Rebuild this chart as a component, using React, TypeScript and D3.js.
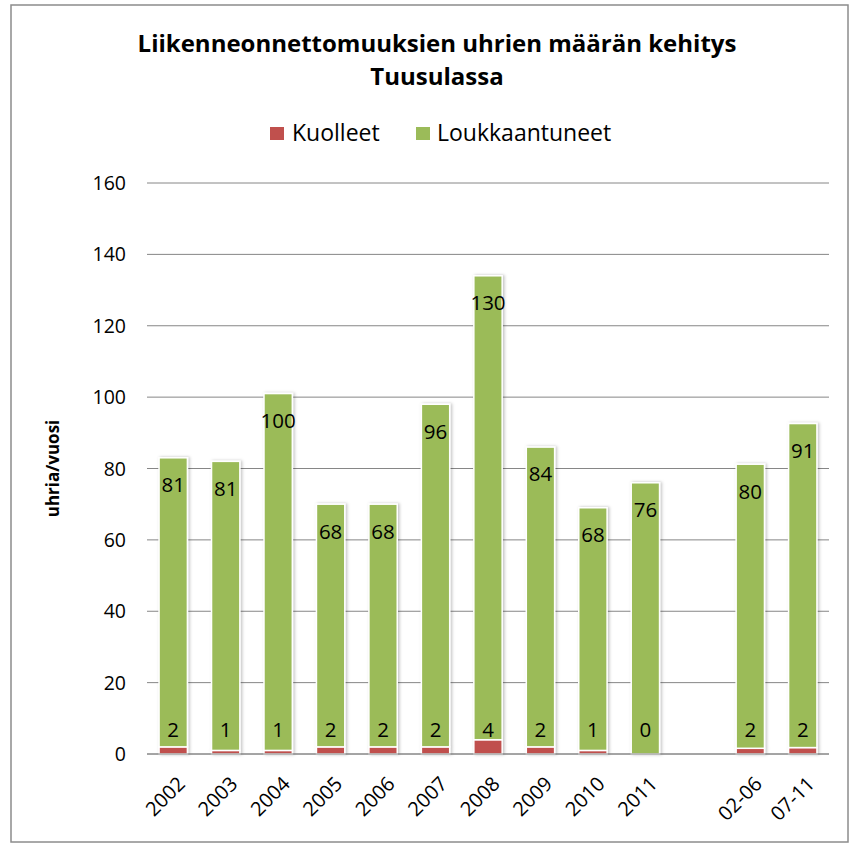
import React from "react";
import * as d3 from "d3";

const categories = ["2002", "2003", "2004", "2005", "2006", "2007", "2008", "2009", "2010", "2011", "", "02-06", "07-11"];
const kuolleet = [2, 1, 1, 2, 2, 2, 4, 2, 1, 0, null, 1.6, 1.8];
const loukkaantuneet = [81, 81, 100, 68, 68, 96, 130, 84, 68, 76, null, 79.6, 90.8];
const yTicks = [0, 20, 40, 60, 80, 100, 120, 140, 160];
const seriesNames = ["Kuolleet", "Loukkaantuneet"];
const colors = ["#C0504D", "#9BBB59"];
const titleLines = ["Liikenneonnettomuuksien uhrien määrän kehitys", "Tuusulassa"];
const yTitle = "uhria/vuosi";

const W = 858;
const H = 843;
const FONT = "'Open Sans', 'Noto Sans', sans-serif";

export default function App() {
  const left = 147;
  const right = 829;
  const top = 183;
  const bottom = 754;

  const x = d3.scaleBand<string>()
    .domain(categories.map((c, i) => `${i}`))
    .range([left, right])
    .paddingInner(0.46)
    .paddingOuter(0.23);
  const y = d3.scaleLinear().domain([0, 160]).range([bottom, top]);
  const fmt = d3.format(".0f");

  const bw = x.bandwidth();

  return (
    <svg width={W} height={H} style={{ position: "absolute", left: 0, top: 0, background: "#fff" }} fontFamily={FONT}>
      <defs>
        <filter id="sh" x="-30%" y="-10%" width="160%" height="120%">
          <feDropShadow dx="1.5" dy="0" stdDeviation="1.5" floodColor="#000" floodOpacity="0.25" />
        </filter>
      </defs>
      <rect x={11} y={5} width={837} height={837} fill="#fff" stroke="#8c8c8c" strokeWidth={1.5} />
      {titleLines.map((t, i) => (
        <text key={i} x={437} y={52 + i * 33} textAnchor="middle" fontSize={24} fontWeight="bold" fill="#000">{t}</text>
      ))}
      {/* legend */}
      <g>
        <rect x={270} y={127} width={14} height={13} fill={colors[0]} />
        <text x={292} y={141} fontSize={23} fill="#000">{seriesNames[0]}</text>
        <rect x={416} y={127} width={14} height={13} fill={colors[1]} />
        <text x={437} y={141} fontSize={23} fill="#000">{seriesNames[1]}</text>
      </g>
      {/* gridlines */}
      {yTicks.map((t) => (
        <g key={t}>
          <line x1={left} x2={right} y1={y(t)} y2={y(t)} stroke="#868686" strokeWidth={1} />
          <text x={126} y={y(t)} dy="0.36em" textAnchor="end" fontSize={19.5} fill="#000">{t}</text>
        </g>
      ))}
      <text transform={`translate(53,${(top + bottom) / 2}) rotate(-90)`} textAnchor="middle" dy="0.35em" fontSize={17} fontWeight="bold" fill="#000">{yTitle}</text>
      {/* bars */}
      {categories.map((c, i) => {
        const k = kuolleet[i];
        const l = loukkaantuneet[i];
        if (k === null || l === null) return null;
        const bx = x(`${i}`)!;
        const cx = bx + bw / 2;
        return (
          <g key={i}>
            <g filter="url(#sh)">
              {k > 0 && (
                <rect x={bx} y={y(k)} width={bw} height={y(0) - y(k)} fill={colors[0]} stroke="#fff" strokeWidth={1.5} />
              )}
              <rect x={bx} y={y(k + l)} width={bw} height={y(k) - y(k + l)} fill={colors[1]} stroke="#fff" strokeWidth={1.5} />
            </g>
            <text x={cx} y={y(k + l) + 27} dy="0.36em" textAnchor="middle" fontSize={20.5} fill="#000">{fmt(l)}</text>
            <text x={cx} y={y(0) - 24} dy="0.36em" textAnchor="middle" fontSize={20.5} fill="#000">{fmt(k)}</text>
          </g>
        );
      })}
      <line x1={left} x2={right} y1={y(0)} y2={y(0)} stroke="#868686" strokeWidth={1} />
      {/* x labels */}
      {categories.map((c, i) => {
        if (!c) return null;
        const cx = x(`${i}`)! + bw / 2;
        return (
          <text key={i} transform={`translate(${cx + 8},${bottom + 26}) rotate(-45)`} textAnchor="end" dy="0.36em" fontSize={20} fill="#000">{c}</text>
        );
      })}
    </svg>
  );
}
